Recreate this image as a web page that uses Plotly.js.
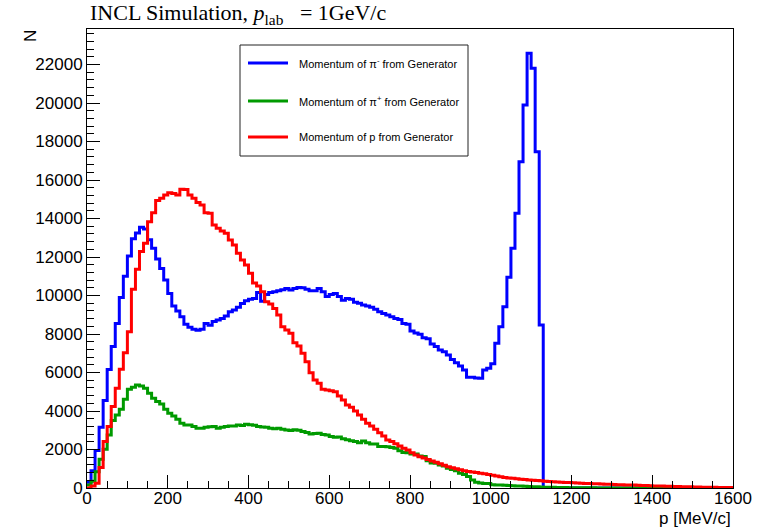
<!DOCTYPE html>
<html>
<head>
<meta charset="utf-8">
<script src="https://cdn.plot.ly/plotly-3.0.1.min.js"></script>
<style>html,body{margin:0;padding:0;background:#fff;}#chart{width:762px;height:527px;}</style>
</head>
<body>
<div id="chart"></div>
<script>
// ---- data ----
const binStart = 0;      // MeV/c
const binWidth = 10;     // MeV/c
const seriesNames = ["Momentum of \u03c0<sup>-</sup> from Generator",
                     "Momentum of \u03c0<sup>+</sup> from Generator",
                     "Momentum of p from Generator"];
const seriesColors = ["#0000ff", "#009a00", "#ff0000"];

const piMinus = [
  300, 900, 1950, 3150, 4550, 6150, 7350, 8550, 9900, 11000,
  12050, 12950, 13250, 13550, 13450, 12900, 12450, 11900, 11400, 10800,
  10100, 9450, 9200, 8900, 8500, 8350, 8250, 8200, 8250, 8550,
  8450, 8650, 8730, 8800, 8930, 9160, 9250, 9390, 9590, 9730,
  9800, 9850, 10150, 9700, 10050, 10150, 10200, 10250, 10300, 10370,
  10280, 10370, 10420, 10400, 10320, 10250, 10250, 10370, 10200, 9950,
  10050, 10110, 9950, 9750, 9850, 9800, 9650, 9600, 9510, 9450,
  9390, 9280, 9160, 9070, 8990, 8900, 8810, 8750, 8550, 8500,
  8150, 8050, 7990, 7800, 7750, 7480, 7350, 7170, 7080, 6910,
  6680, 6500, 6340, 6130, 5750, 5750, 5720, 5700, 6130, 6220,
  6450, 7520, 8380, 9420, 10950, 12450, 14270, 16950, 19900, 22580,
  21800, 17470, 8470, 0, 0, 0, 0, 0, 0, 0,
  0, 0, 0, 0, 0, 0, 0, 0, 0, 0,
  0, 0, 0, 0, 0, 0, 0, 0, 0, 0,
  0, 0, 0, 0, 0, 0, 0, 0, 0, 0,
  0, 0, 0, 0, 0, 0, 0, 0, 0, 0
];

const piPlus = [
  150, 350, 850, 1490, 2010, 2750, 3500, 3790, 4090, 4610,
  5130, 5230, 5350, 5300, 5180, 4920, 4660, 4490, 4360, 4090,
  3880, 3740, 3570, 3360, 3270, 3270, 3190, 3100, 3100, 3150,
  3180, 3190, 3100, 3150, 3200, 3220, 3220, 3270, 3250, 3310,
  3290, 3260, 3190, 3170, 3150, 3100, 3080, 3100, 3050, 3010,
  2990, 3020, 3000, 2930, 2880, 2810, 2830, 2850, 2780, 2750,
  2680, 2630, 2650, 2560, 2500, 2460, 2420, 2350, 2440, 2350,
  2290, 2280, 2150, 2150, 2140, 2100, 2060, 1940, 1850, 1830,
  1770, 1760, 1660, 1640, 1420, 1300, 1280, 1200, 1140, 1020,
  960, 900, 760, 700, 600, 415, 300, 260, 240, 230,
  170, 155, 150, 140, 130, 120, 110, 100, 90, 80,
  70, 60, 50, 45, 40, 35, 30, 25, 20, 18,
  15, 12, 10, 9, 8, 7, 6, 5, 5, 4,
  4, 3, 3, 3, 2, 2, 2, 2, 1, 1,
  1, 1, 1, 1, 0, 0, 0, 0, 0, 0,
  0, 0, 0, 0, 0, 0, 0, 0, 0, 0
];

const proton = [
  0, 100, 250, 1070, 2410, 3190, 4230, 5180, 6170, 7030,
  8120, 10320, 11360, 12280, 12710, 13830, 14300, 14930, 15050, 15220,
  15340, 15300, 15220, 15520, 15500, 15220, 15050, 14830, 14700, 14300,
  14270, 13660, 13490, 13350, 13230, 12880, 12620, 12200, 11840, 11590,
  11150, 10650, 10490, 10200, 9680, 9560, 9330, 8990, 8380, 8210,
  8040, 7550, 7380, 7000, 6560, 5990, 5610, 5440, 5130, 5090,
  5050, 5000, 4780, 4570, 4310, 4200, 4000, 3790, 3570, 3360,
  3220, 3050, 2870, 2700, 2490, 2410, 2300, 2180, 2060, 1970,
  1830, 1720, 1620, 1560, 1480, 1400, 1340, 1260, 1180, 1100,
  1050, 1000, 950, 900, 860, 830, 800, 770, 740, 700,
  660, 620, 580, 550, 520, 500, 480, 460, 440, 420,
  400, 390, 375, 350, 340, 320, 310, 300, 290, 280,
  270, 260, 250, 240, 235, 225, 215, 210, 200, 195,
  185, 175, 170, 160, 155, 150, 140, 135, 125, 120,
  110, 105, 100, 95, 88, 80, 75, 70, 65, 60,
  55, 50, 45, 42, 40, 35, 30, 28, 25, 22
];

const xTickVals = [0, 200, 400, 600, 800, 1000, 1200, 1400, 1600];
const yTickVals = [0, 2000, 4000, 6000, 8000, 10000, 12000, 14000, 16000, 18000, 20000, 22000];

// ---- build step outlines (bin low edges + closing upper edge) ----
function stepTrace(vals, name, color) {
  const x = [], y = [];
  for (let i = 0; i < vals.length; i++) { x.push(binStart + i * binWidth); y.push(vals[i]); }
  x.push(binStart + vals.length * binWidth); y.push(vals[vals.length - 1]);
  return {type: 'scatter', mode: 'lines', x: x, y: y, name: name,
          line: {shape: 'hv', color: color, width: 3}, hoverinfo: 'skip'};
}

const data = [
  stepTrace(piMinus, seriesNames[0], seriesColors[0]),
  stepTrace(piPlus, seriesNames[1], seriesColors[1]),
  stepTrace(proton, seriesNames[2], seriesColors[2])
];

// pixel -> paper helpers for layout decorations
const L = 87, R = 733, T = 29, B = 488;
const fx = px => (px - L) / (R - L);
const fy = py => (B - py) / (B - T);

const font = 'Liberation Sans, Arial, Helvetica, sans-serif';

const shapes = [
  {type: 'rect', xref: 'paper', yref: 'paper', x0: fx(240), x1: fx(468), y0: fy(156), y1: fy(45),
   line: {color: '#222', width: 1}, fillcolor: 'white', layer: 'above'}
];
const legY = [63, 101, 137];
const annotations = [
  {xref: 'paper', yref: 'paper', x: fx(88), y: fy(14), xanchor: 'left', yanchor: 'middle', showarrow: false,
   text: 'INCL Simulation, <i>p</i><sub>lab</sub> \u2002= 1GeV/c',
   font: {family: 'Liberation Serif, Times New Roman, serif', size: 22, color: '#000'}},
  {xref: 'paper', yref: 'paper', x: fx(31), y: fy(36), xanchor: 'center', yanchor: 'middle', showarrow: false,
   text: 'N', textangle: -90, font: {family: font, size: 17, color: '#000'}},
  {xref: 'paper', yref: 'paper', x: 1, y: fy(518), xanchor: 'right', yanchor: 'middle', showarrow: false,
   text: 'p [MeV/c]', font: {family: font, size: 17, color: '#000'}}
];
for (let k = 0; k < 3; k++) {
  shapes.push({type: 'line', xref: 'paper', yref: 'paper', x0: fx(248), x1: fx(288), y0: fy(legY[k]), y1: fy(legY[k]),
               line: {color: seriesColors[k], width: 3}, layer: 'above'});
  annotations.push({xref: 'paper', yref: 'paper', x: fx(297), y: fy(legY[k]), xanchor: 'left', yanchor: 'middle',
                    showarrow: false, text: seriesNames[k], font: {family: font, size: 11, color: '#000'}});
}

const axisCommon = {
  showline: true, linecolor: '#000', linewidth: 1, mirror: true,
  ticks: 'inside', tickcolor: '#000', tickwidth: 1, ticklen: 13,
  showgrid: false, zeroline: false,
  tickfont: {family: font, size: 17, color: '#000'}
};

const layout = {
  width: 762, height: 527,
  margin: {l: L, r: 762 - R, t: T, b: 527 - B, pad: 0},
  paper_bgcolor: '#fff', plot_bgcolor: '#fff',
  showlegend: false,
  xaxis: Object.assign({}, axisCommon, {
    range: [0, 1600], tickmode: 'array', tickvals: xTickVals, ticktext: xTickVals.map(String),
    ticklabelstandoff: -5,
    minor: {ticks: 'inside', ticklen: 7, dtick: 50, tick0: 0, tickcolor: '#000', tickwidth: 1, showgrid: false}
  }),
  yaxis: Object.assign({}, axisCommon, {
    range: [0, 23844], tickmode: 'array', tickvals: yTickVals, ticktext: yTickVals.map(String),
    minor: {ticks: 'inside', ticklen: 7, dtick: 400, tick0: 0, tickcolor: '#000', tickwidth: 1, showgrid: false}
  }),
  shapes: shapes,
  annotations: annotations
};

Plotly.newPlot('chart', data, layout, {staticPlot: true, displayModeBar: false});
</script>
</body>
</html>
